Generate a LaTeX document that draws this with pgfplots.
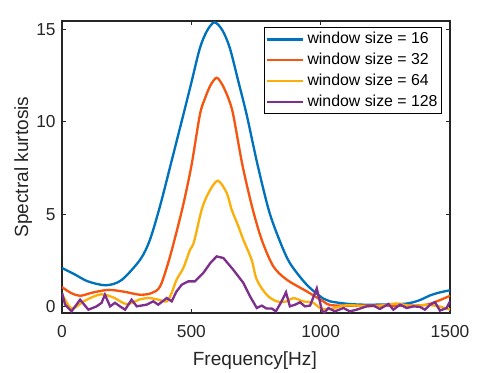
\documentclass[border=0pt]{standalone}
\usepackage{fontspec}
\setmainfont{Liberation Sans}
\usepackage{pgfplots}
\pgfplotsset{compat=1.18}
\definecolor{mblue}{RGB}{0,114,189}
\definecolor{mred}{RGB}{245,85,15}
\definecolor{myellow}{RGB}{250,175,10}
\definecolor{mpurple}{RGB}{126,47,142}
\definecolor{axgray}{RGB}{38,38,38}
\begin{document}
\begin{tikzpicture}
\begin{axis}[
  name=ax,
  scale only axis,
  width=291pt, height=219pt,
  xmin=0, xmax=1500, ymin=-0.33, ymax=15.45,
  xtick={0,500,1000,1500}, ytick={0,5,10,15},
  tick align=inside,
  major tick length=3.3pt,
  axis line style={axgray, line width=0.9pt},
  tick style={axgray, line width=0.7pt},
  /pgf/number format/assume math mode=true,
  /pgf/number format/set thousands separator={},
  ticklabel style={font=\fontsize{13}{15}\selectfont, text=axgray},
  xticklabel style={yshift=-6pt},
  yticklabel style={xshift=-1.3pt},
  xlabel={Frequency[Hz]},
  ylabel={Spectral kurtosis},
  label style={font=\fontsize{14.3}{17}\selectfont, text=axgray},
  xlabel style={at={(axis description cs:0.497,-0.163)}, anchor=center},
  ylabel style={at={(axis description cs:-0.1,0.5)}, anchor=center},
  legend style={at={(1,1)}, anchor=north east, xshift=-6pt, yshift=-4.5pt,
    draw=black, line width=0.6pt, fill=white,
    font=\fontsize{11.9}{14}\selectfont,
    nodes={inner sep=2pt, text height=9pt, text depth=2.6pt},
    inner xsep=1pt, inner ysep=1.2pt},
  legend cell align=left,
  legend image code/.code={\draw[#1, line width=1.8pt] (0pt,0pt) -- (27pt,0pt);},
  every axis plot/.append style={line width=1.75pt},
]
\addplot[mblue, smooth, tension=0.5,
  legend image code/.code={\draw[##1, line width=2.5pt] (0pt,0pt) -- (27pt,0pt);}] coordinates {
(0,2.1) (50,1.75) (100,1.38) (170,1.17) (230,1.45) (302,2.55) (340,3.63)
(380,5.5) (420,7.68) (469,10.38) (501,12.17) (533,13.98) (560,14.9)
(589,15.38) (620,14.95) (649,13.98) (682,12.17) (714,10.38) (756,7.68)
(800,5.2) (840,3.63) (881,2.37) (946,1.2) (1010,0.45) (1036,0.3)
(1100,0.17) (1164,0.12) (1250,0.13) (1332,0.18) (1380,0.35) (1423,0.62)
(1460,0.78) (1500,0.9)};
\addlegendentry{window size = 16}
\addplot[mred, smooth, tension=0.5] coordinates {
(0,1.07) (35,0.75) (70,0.6) (120,0.78) (180,0.92) (240,0.82) (300,0.66)
(345,0.74) (379,1.1) (412,2.45) (440,3.9) (470,5.6) (501,7.68) (533,10.38)
(553,11.28) (575,12.0) (598,12.38) (620,12.0) (643,11.28) (662,10.38)
(697,7.7) (735,5.4) (772,3.63) (817,2.19) (869,1.47) (946,0.84) (1010,0.3)
(1036,0.1) (1100,0.07) (1200,0.07) (1300,0.07) (1400,0.1) (1449,0.3) (1500,0.6)};
\addlegendentry{window size = 32}
\addplot[myellow, smooth, tension=0.5] coordinates {
(0,0.72) (37,-0.08) (90,0.35) (150,0.68) (200,0.5) (250,0.15) (300,0.4)
(335,0.48) (370,0.4) (405,0.3) (424,0.76) (443,1.47) (469,2.1) (495,3.09)
(510,3.5) (540,5.25) (566,6.15) (602,6.82) (637,6.15) (656,5.25) (682,4.35)
(701,3.63) (733,2.55) (753,1.47) (791,0.66) (830,0.3) (869,0.3) (894,0.48)
(933,0.3) (972,0.22) (997,-0.06) (1036,-0.12) (1100,0.09) (1190,0.03)
(1250,0.1) (1294,0.18) (1350,0.05) (1400,0.1) (1450,0.05) (1500,-0.15)};
\addlegendentry{window size = 64}
\addplot[mpurple] coordinates {
(0,0.76) (12,0.12) (37,-0.24) (70,0.39) (102,-0.15) (134,0.03) (153,0.22)
(166,0.66) (186,0.03) (205,0.22) (224,0.03) (244,-0.15) (269,0.39) (289,0.03)
(327,0.12) (353,0.3) (372,0.12) (405,0.48) (424,0.3) (443,0.84) (463,1.2)
(488,1.38) (514,1.38) (546,1.83) (575,2.4) (598,2.73) (624,2.64) (662,2.01)
(701,1.3) (727,0.57) (753,-0.06) (772,0.07) (791,-0.09) (811,-0.09)
(827,-0.24) (849,0.3) (866,0.79) (881,0.03) (901,0.12) (920,0.25) (939,0.03)
(959,0.07) (985,1.0) (1005,-0.2) (1015,-0.3) (1030,-0.06) (1055,-0.24)
(1088,-0.06) (1113,-0.24) (1139,-0.15) (1178,0.03) (1204,0.07) (1229,-0.11)
(1262,0.16) (1281,-0.15) (1307,0.12) (1333,-0.06) (1358,0.03) (1384,0)
(1403,-0.15) (1423,0.12) (1442,0.25) (1461,-0.2) (1487,-0.06) (1500,0.3)};
\addlegendentry{window size = 128}
\end{axis}
\pgfresetboundingbox
\path[use as bounding box] ([xshift=-46.5pt, yshift=-44.25pt]ax.south west)
  rectangle ([xshift=24.75pt, yshift=15.75pt]ax.north east);
\end{tikzpicture}
\end{document}
